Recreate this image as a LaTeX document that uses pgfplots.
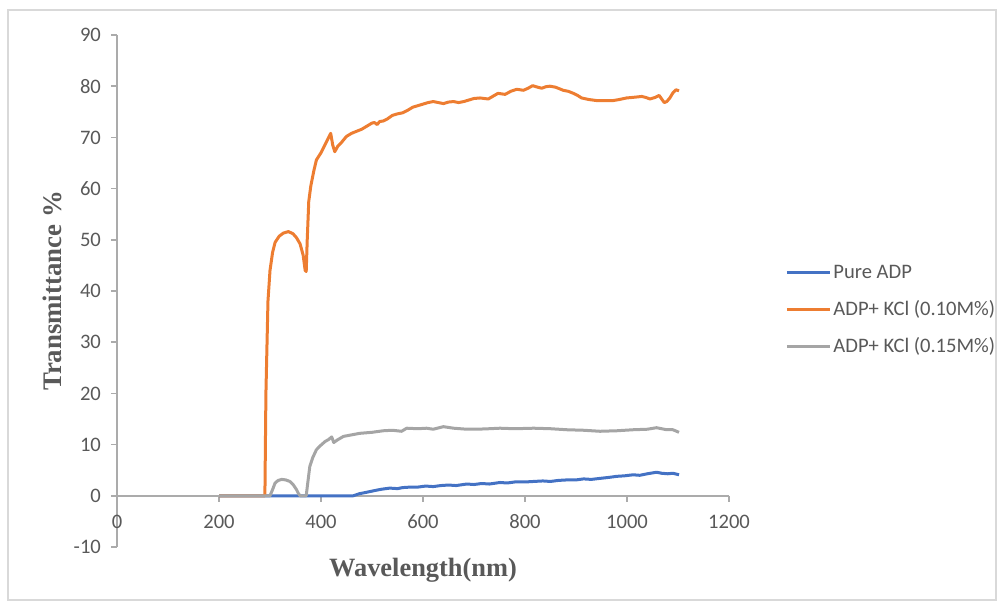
\documentclass[border=0pt]{standalone}
\usepackage{pgfplots}
\pgfplotsset{compat=1.18}
\usepackage{fontspec}
\setmainfont{Carlito}
\newfontfamily\tnr{Liberation Serif}
\definecolor{xlblue}{HTML}{4472C4}
\definecolor{xlorange}{HTML}{ED7D31}
\definecolor{xlgray}{HTML}{A5A5A5}
\definecolor{txtgray}{HTML}{595959}
\definecolor{axgray}{HTML}{ABABAB}
\definecolor{frame}{HTML}{D9D9D9}
\begin{document}
\begin{tikzpicture}
\path[use as bounding box] (0pt,0pt) rectangle (500pt,301.5pt);
\draw[frame, line width=0.6pt] (4pt,1.5pt) rectangle (498pt,296.5pt);
\begin{axis}[
  at={(58.5pt,28pt)}, anchor=south west,
  scale only axis, width=306pt, height=256pt,
  xmin=0, xmax=1200, ymin=-10, ymax=90,
  xtick={0,200,...,1200}, ytick={-10,0,...,90},
  axis x line=middle, axis y line=left,
  axis line style={-, axgray, line width=0.75pt},
  hide obscured x ticks=false, hide obscured y ticks=false,
  tick align=outside, major tick length=3pt,
  tick style={axgray, line width=0.75pt},
  ticklabel style={font=\fontsize{10.3}{12}\selectfont, text=txtgray},
  xticklabel style={yshift=-3pt},
  yticklabel style={xshift=-1.5pt},
  /pgf/number format/assume math mode=true,
  /pgf/number format/1000 sep={},
  xlabel={Wavelength(nm)}, ylabel={Transmittance \%},
  xlabel style={font=\tnr\bfseries\fontsize{13.2}{15}\selectfont, text=txtgray,
    at={(axis description cs:0.5,-0.045)}, anchor=center},
  ylabel style={font=\tnr\bfseries\fontsize{13.4}{15}\selectfont, text=txtgray,
    at={(axis description cs:-0.105,0.50)}, anchor=center},
  legend style={at={(axis description cs:1.0915,0.463)}, anchor=west,
    draw=none, fill=none, inner sep=0pt, row sep=6.5pt,
    font=\fontsize{10.3}{12}\selectfont, text=txtgray,
    nodes={inner sep=1pt, text height=8pt, text depth=2pt}},
  legend cell align=left,
  legend image code/.code={\draw[#1, line width=1.5pt] (0pt,0pt) -- (21.5pt,0pt);},
  every axis plot/.append style={line width=1.5pt, line join=round},
]
\addplot[xlblue] coordinates {
(200,0) (300,0) (463,0) (475,0.4) (490,0.7) (509,1.1) (520,1.3) (535,1.5) (550,1.4)
(560,1.6) (575,1.7) (590,1.7) (605,1.9) (620,1.8) (635,2.0) (650,2.1) (665,2.0)
(686,2.3) (700,2.2) (715,2.4) (730,2.3) (751,2.6) (765,2.5) (780,2.7) (800,2.7)
(817,2.8) (835,2.9) (850,2.8) (865,3.0) (882,3.1) (900,3.1) (915,3.3) (930,3.2)
(947,3.4) (965,3.6) (980,3.8) (995,3.9) (1012,4.1) (1025,4.0) (1040,4.3) (1058,4.6)
(1068,4.4) (1080,4.3) (1090,4.4) (1102,4.1)
};
\addlegendentry{Pure ADP}
\addplot[xlorange] coordinates {
(200,0) (290,0) (292,20) (296,38) (300,44) (305,47.5) (310,49.5) (318,50.7)
(326,51.3) (336,51.6) (345,51.2) (352,50.4) (359,49.2) (365,47) (369,44) (371,43.8)
(373,50) (376,57.5) (380,60.5) (386,63.5) (391,65.6) (400,67) (410,69) (419,70.8)
(423,68.5) (427,67.2) (433,68.3) (440,69) (450,70.2) (460,70.8) (470,71.2) (480,71.6)
(490,72.2) (500,72.8) (505,72.9) (510,72.5) (515,73.1) (522,73.2) (530,73.6) (540,74.3)
(550,74.6) (560,74.8) (570,75.3) (580,75.9) (590,76.2) (600,76.5) (610,76.8) (620,77.0)
(630,76.8) (640,76.6) (650,76.9) (660,77.0) (670,76.8) (680,77.0) (690,77.3) (700,77.6)
(712,77.7) (728,77.5) (740,78.2) (747,78.6) (761,78.4) (772,79.0) (784,79.4) (797,79.2)
(806,79.6) (815,80.1) (825,79.8) (833,79.6) (841,79.9) (849,80.0) (860,79.8) (875,79.2)
(885,79.0) (895,78.6) (903,78.2) (911,77.7) (925,77.4) (940,77.2) (955,77.2) (973,77.2)
(985,77.4) (999,77.7) (1010,77.8) (1020,77.9) (1029,78.0) (1037,77.8) (1045,77.5)
(1055,77.8) (1063,78.2) (1068,77.5) (1073,76.8) (1078,77.0) (1084,77.7) (1090,78.7)
(1096,79.3) (1102,79.1)
};
\addlegendentry{ADP+ KCl (0.10M\%)}
\addplot[xlgray] coordinates {
(200,0) (300,0) (305,1.2) (310,2.5) (316,3.0) (323,3.2) (331,3.1) (339,2.8) (346,2.1)
(352,1.2) (356,0.4) (359,0) (371,0) (374,2.5) (378,5.7) (384,7.5) (391,9.0) (400,9.9)
(408,10.6) (415,11.0) (421,11.5) (425,10.4) (432,10.9) (444,11.6) (460,11.9) (476,12.2)
(500,12.4) (522,12.7) (540,12.8) (558,12.6) (568,13.2) (590,13.1) (607,13.2) (620,13.0)
(640,13.5) (660,13.2) (686,13.0) (705,13.0) (730,13.1) (751,13.2) (780,13.1) (817,13.2)
(850,13.1) (882,12.9) (915,12.8) (947,12.6) (980,12.7) (1012,12.9) (1040,13.0)
(1058,13.3) (1068,13.1) (1078,12.9) (1090,12.9) (1102,12.4)
};
\addlegendentry{ADP+ KCl (0.15M\%)}
\end{axis}
\end{tikzpicture}
\end{document}
